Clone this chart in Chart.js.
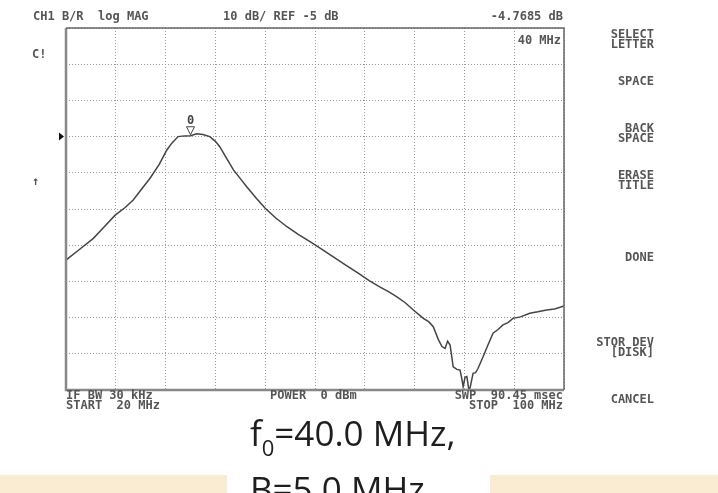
<!DOCTYPE html>
<html>
<head>
<meta charset="utf-8">
<script src="https://cdn.jsdelivr.net/npm/chart.js@4.4.1/dist/chart.umd.min.js"></script>
<style>
  html, body { margin: 0; padding: 0; background: #fff; }
  #c { display: block; }
</style>
</head>
<body>
<canvas id="c" width="718" height="493"></canvas>
<script>
// sweep 20..100 MHz, trace in dB (B/R log MAG)
const freqMHz = [20, 22, 24.4, 26, 27.9, 29.5, 30.8, 32, 33.5, 35, 36.2, 37, 38, 39, 40, 41, 42, 43.1, 44, 44.7,
  45.8, 46.9, 48, 49, 50.5, 52, 53.7, 55.5, 57.3, 59.2, 61, 63, 65, 67, 68.7, 70.4, 71.8, 73.1, 74.5, 75.8,
  77.4, 78.3, 79, 79.8, 80.4, 80.9, 81.3, 81.7, 82.2, 82.8, 83.3, 83.6, 83.8, 84.1, 84.4, 84.7, 84.9, 85.2,
  85.4, 85.8, 86.2, 87, 87.8, 88.6, 89.4, 90.2, 91, 91.8, 93, 94.5, 95.8, 97.2, 98.5, 100];
const traceDb = [-39.1, -36.4, -33.1, -30.2, -26.7, -24.6, -22.5, -19.8, -16.5, -12.6, -8.7, -6.8, -5.0, -4.8, -4.77, -4.2, -4.4, -5.0, -6.3, -7.8,
  -11.0, -14.2, -16.6, -18.8, -21.9, -24.8, -27.5, -29.9, -32.0, -34.0, -36.0, -38.3, -40.6, -42.8, -44.8, -46.5, -47.8, -49.2, -50.9, -52.9,
  -55.2, -56.2, -57.5, -61.0, -63.0, -63.5, -61.5, -62.6, -68.6, -69.3, -69.5, -72.0, -74.1, -71.5, -71.3, -74.8, -74.5, -72.0,
  -70.4, -70.2, -69.0, -65.8, -62.5, -59.3, -58.3, -57.0, -56.4, -55.2, -54.8, -53.8, -53.4, -52.9, -52.6, -51.8];

const xTicks = [20, 28, 36, 44, 52, 60, 68, 76, 84, 92, 100];
const yTicks = [25, 15, 5, -5, -15, -25, -35, -45, -55, -65, -75];
const refLevel = -5;
const markerFreq = 40;
const markerDb = -4.7685;

const header = ["CH1 B/R  log MAG", "10 dB/ REF -5 dB", "-4.7685 dB", "40 MHz"];
const footer = ["IF BW 30 kHz", "START  20 MHz", "POWER  0 dBm", "SWP  90.45 msec", "STOP  100 MHz"];
const softkeys = [["SELECT", "LETTER"], ["SPACE"], ["BACK", "SPACE"], ["ERASE", "TITLE"], ["DONE"], ["STOR DEV", "[DISK]"], ["CANCEL"]];
const softkeyY = [35, 82, 129, 176, 258, 343, 400];
const caption = ["40.0 MHz,", "B=5.0 MHz"];

const mono = "bold 12px 'DejaVu Sans Mono'";

const screenText = {
  id: "screenText",
  beforeDraw(chart) {
    const ctx = chart.ctx;
    ctx.save();
    // cream bars at the bottom of the slide
    ctx.fillStyle = "#faecd3";
    ctx.fillRect(0, 475, 227, 18);
    ctx.fillRect(490, 475, 228, 18);
    ctx.restore();
  },
  afterDraw(chart) {
    const ctx = chart.ctx;
    const a = chart.chartArea;
    const x = chart.scales.x, y = chart.scales.y;
    ctx.save();

    // frame
    ctx.strokeStyle = "#888";
    ctx.lineWidth = 2.5;
    ctx.beginPath();
    ctx.moveTo(a.left, a.top); ctx.lineTo(a.left, a.bottom); ctx.lineTo(a.right, a.bottom);
    ctx.stroke();
    ctx.strokeStyle = "#666";
    ctx.lineWidth = 1.5;
    ctx.beginPath();
    ctx.moveTo(a.left, a.top); ctx.lineTo(a.right, a.top); ctx.lineTo(a.right, a.bottom);
    ctx.stroke();

    ctx.fillStyle = "#555";
    ctx.font = mono;
    ctx.textBaseline = "middle";
    ctx.textAlign = "left";
    ctx.fillText(header[0], 33, 17);
    ctx.fillText(header[1], 223, 17);
    ctx.textAlign = "right";
    ctx.fillText(header[2], 563, 17);
    ctx.fillText(header[3], 561, 41);

    ctx.textAlign = "left";
    ctx.fillText("C!", 32, 55);
    ctx.fillText("\u2191", 32, 182);
    ctx.fillText(footer[0], 66, 396);
    ctx.fillText(footer[1], 66, 406);
    ctx.fillText(footer[2], 270, 396);
    ctx.textAlign = "right";
    ctx.fillText(footer[3], 563, 396);
    ctx.fillText(footer[4], 563, 406);

    softkeys.forEach((lines, i) => {
      lines.forEach((t, j) => ctx.fillText(t, 654, softkeyY[i] + j * 10));
    });

    // reference level pointer
    const ry = y.getPixelForValue(refLevel);
    ctx.fillStyle = "#111";
    ctx.beginPath();
    ctx.moveTo(a.left - 7, ry - 4); ctx.lineTo(a.left - 2, ry); ctx.lineTo(a.left - 7, ry + 4);
    ctx.closePath(); ctx.fill();

    // marker 0
    const mx = x.getPixelForValue(markerFreq), my = y.getPixelForValue(markerDb) - 1;
    ctx.strokeStyle = "#444";
    ctx.lineWidth = 1;
    ctx.beginPath();
    ctx.moveTo(mx - 4, my - 8); ctx.lineTo(mx + 4, my - 8); ctx.lineTo(mx, my);
    ctx.closePath(); ctx.stroke();
    ctx.fillStyle = "#444";
    ctx.textAlign = "center";
    ctx.fillText("0", mx, my - 14);

    // caption below the screen
    ctx.fillStyle = "#1e1e1e";
    ctx.textAlign = "left";
    ctx.textBaseline = "alphabetic";
    ctx.font = "35px 'Open Sans'";
    ctx.fillText("f", 250, 446);
    const fw = ctx.measureText("f").width;
    ctx.font = "22px 'Open Sans'";
    ctx.fillText("0", 250 + fw, 456);
    const zw = ctx.measureText("0").width;
    ctx.font = "35px 'Open Sans'";
    ctx.fillText("=" + caption[0], 250 + fw + zw, 446);
    ctx.fillText(caption[1], 250, 502);
    ctx.restore();
  }
};

new Chart(document.getElementById("c"), {
  type: "line",
  data: {
    datasets: [{
      data: freqMHz.map((f, i) => ({ x: f, y: traceDb[i] })),
      borderColor: "#444",
      borderWidth: 1.5,
      pointRadius: 0,
      tension: 0,
      fill: false
    }]
  },
  options: {
    responsive: false,
    animation: false,
    layout: { padding: { left: 66, top: 28, right: 154, bottom: 103 } },
    plugins: { legend: { display: false }, tooltip: { enabled: false } },
    scales: {
      x: {
        type: "linear",
        min: 20, max: 100,
        afterBuildTicks: s => { s.ticks = xTicks.map(v => ({ value: v })); },
        ticks: { display: false },
        grid: { color: "#999", lineWidth: 1, drawTicks: false },
        border: { display: false, dash: [1, 2] }
      },
      y: {
        min: -75, max: 25,
        afterBuildTicks: s => { s.ticks = yTicks.map(v => ({ value: v })); },
        ticks: { display: false },
        grid: { color: "#999", lineWidth: 1, drawTicks: false },
        border: { display: false, dash: [1, 2] }
      }
    }
  },
  plugins: [screenText]
});
</script>
</body>
</html>
